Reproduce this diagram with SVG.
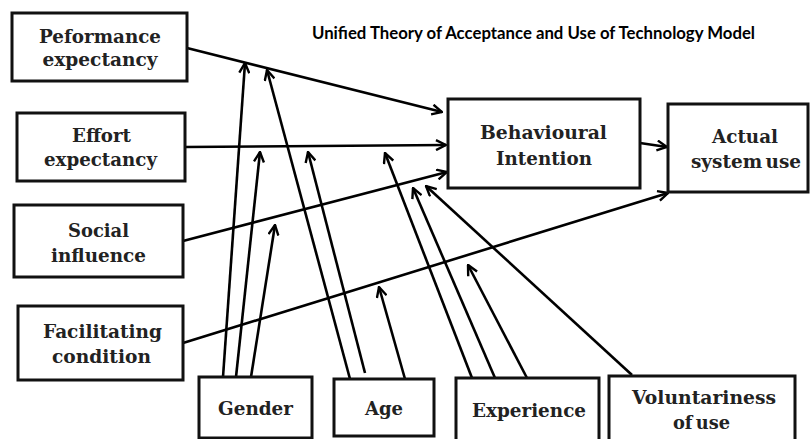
<svg xmlns="http://www.w3.org/2000/svg" width="810" height="439" viewBox="0 0 810 439">
<style>
.box{fill:#fff;stroke:#111;stroke-width:3}
.lbl{font-family:"DejaVu Serif","Liberation Serif",serif;font-weight:bold;font-size:18px;fill:#222;text-anchor:middle}
.title{font-family:Lato,"Liberation Sans",sans-serif;font-weight:bold;font-size:16.5px;fill:#000}
.ln{stroke:#000;stroke-width:2.6;fill:none}
.arr{stroke:#000;stroke-width:2.6;fill:none;marker-end:url(#ah)}
</style>
<defs>
<marker id="ah" viewBox="0 0 12 12" refX="11" refY="6" markerWidth="12" markerHeight="12" markerUnits="userSpaceOnUse" orient="auto">
<path d="M1,1 L11,6 L1,11" fill="none" stroke="#000" stroke-width="2.4" stroke-linejoin="miter"/>
</marker>
</defs>
<rect width="810" height="439" fill="#fff"/>
<text class="title" x="312" y="38.5" textLength="443" lengthAdjust="spacingAndGlyphs">Unified Theory of Acceptance and Use of Technology Model</text>

<g id="connectors">
<path class="arr" d="M187,48 L442,112"/>
<path class="arr" d="M185,147 L446,145"/>
<path class="arr" d="M183,241 L447,172"/>
<path class="arr" d="M183,343 L668,193"/>
<path class="arr" d="M640,143 L667,147"/>
<path class="arr" d="M223,377 L245,63"/>
<path class="arr" d="M236,377 L260,152"/>
<path class="arr" d="M251,377 L275,225"/>
<path class="arr" d="M350,379 L267,70"/>
<path class="arr" d="M365,373 L308,152"/>
<path class="arr" d="M405,379 L379,287"/>
<path class="arr" d="M472,378 L385,153"/>
<path class="arr" d="M495,378 L413,188"/>
<path class="arr" d="M527,378 L468,265"/>
<path class="arr" d="M632,375 L426,186"/>
</g>

<g id="performance">
<rect class="box" x="12" y="13" width="175" height="68"/>
<text class="lbl" x="100" y="43" textLength="122" lengthAdjust="spacingAndGlyphs">Peformance</text>
<text class="lbl" x="100" y="66" textLength="115" lengthAdjust="spacingAndGlyphs">expectancy</text>
</g>
<g id="effort">
<rect class="box" x="17" y="113" width="168" height="68"/>
<text class="lbl" x="101.5" y="142" textLength="59" lengthAdjust="spacingAndGlyphs">Effort</text>
<text class="lbl" x="100.5" y="166" textLength="113" lengthAdjust="spacingAndGlyphs">expectancy</text>
</g>
<g id="social">
<rect class="box" x="14" y="205" width="169" height="72"/>
<text class="lbl" x="98.5" y="237" textLength="61" lengthAdjust="spacingAndGlyphs">Social</text>
<text class="lbl" x="98.5" y="262" textLength="95" lengthAdjust="spacingAndGlyphs">influence</text>
</g>
<g id="facilitating">
<rect class="box" x="18" y="306" width="165" height="74"/>
<text class="lbl" x="102.5" y="338" textLength="119" lengthAdjust="spacingAndGlyphs">Facilitating</text>
<text class="lbl" x="101.5" y="363" textLength="99" lengthAdjust="spacingAndGlyphs">condition</text>
</g>
<g id="behavioural">
<rect class="box" x="448" y="99" width="192" height="89"/>
<text class="lbl" x="543.5" y="139" textLength="127" lengthAdjust="spacingAndGlyphs">Behavioural</text>
<text class="lbl" x="544" y="165" textLength="96" lengthAdjust="spacingAndGlyphs">Intention</text>
</g>
<g id="actual">
<rect class="box" x="668" y="104" width="140" height="88"/>
<text class="lbl" x="745" y="143" textLength="66" lengthAdjust="spacingAndGlyphs">Actual</text>
<text class="lbl" x="746" y="168" textLength="110" lengthAdjust="spacingAndGlyphs" word-spacing="-3">system use</text>
</g>
<g id="gender">
<rect class="box" x="199" y="377" width="113" height="61"/>
<text class="lbl" x="255.5" y="415" textLength="75" lengthAdjust="spacingAndGlyphs">Gender</text>
</g>
<g id="age">
<rect class="box" x="334" y="379" width="100" height="57"/>
<text class="lbl" x="384" y="415" textLength="38" lengthAdjust="spacingAndGlyphs">Age</text>
</g>
<g id="experience">
<rect class="box" x="456" y="378" width="143" height="64"/>
<text class="lbl" x="529" y="417" textLength="114" lengthAdjust="spacingAndGlyphs">Experience</text>
</g>
<g id="voluntariness">
<rect class="box" x="609" y="376" width="186" height="66"/>
<text class="lbl" x="704" y="404" textLength="144" lengthAdjust="spacingAndGlyphs">Voluntariness</text>
<text class="lbl" x="701.5" y="429" textLength="57" lengthAdjust="spacingAndGlyphs" word-spacing="-3">of use</text>
</g>
</svg>
